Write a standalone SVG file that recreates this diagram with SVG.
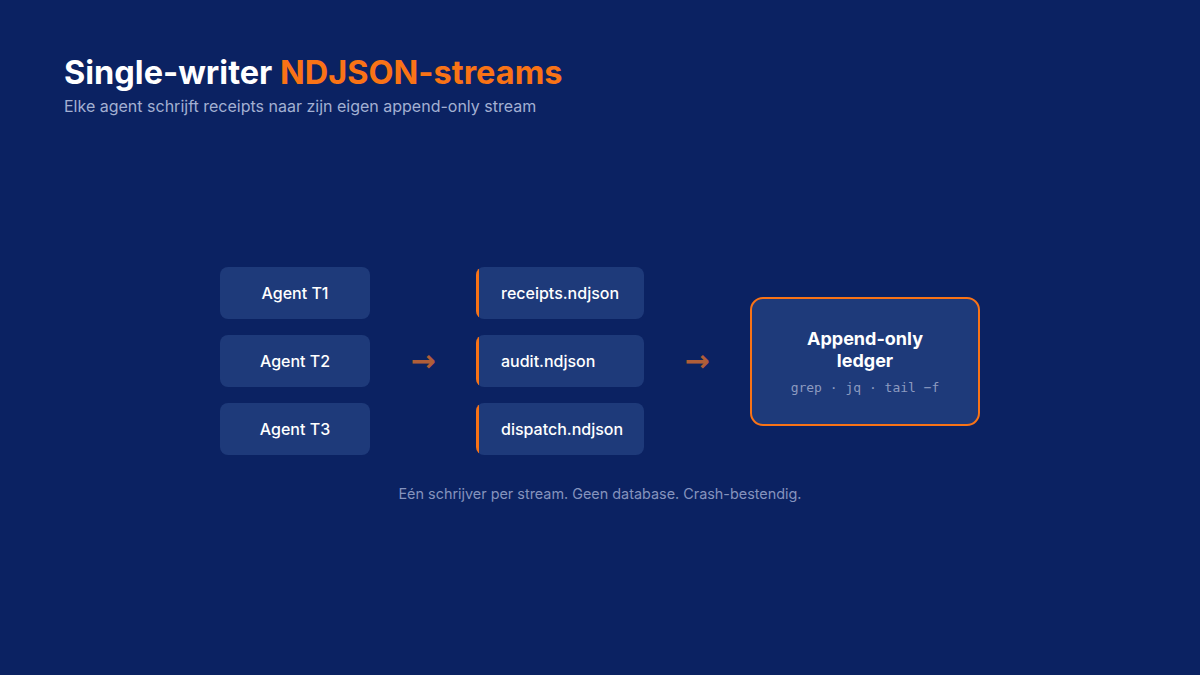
<svg xmlns="http://www.w3.org/2000/svg" width="1200" height="675" viewBox="0 0 1200 675">
<defs>
<style>
.bg{fill:#0b2262}
.box{fill:#1e3a7a}
.lbl{font-family:Inter,"Liberation Sans",sans-serif;font-size:16px;font-weight:500;fill:#ffffff}
.arrow{font-family:"DejaVu Sans",sans-serif;font-size:30px;font-weight:700;fill:#e8722a;opacity:0.75}
.bar{fill:#f97316}
</style>
<clipPath id="c1"><rect x="476" y="267" width="168" height="52" rx="8"/></clipPath>
<clipPath id="c2"><rect x="476" y="335" width="168" height="52" rx="8"/></clipPath>
<clipPath id="c3"><rect x="476" y="403" width="168" height="52" rx="8"/></clipPath>
</defs>
<rect class="bg" x="0" y="0" width="1200" height="675"/>
<g id="title">
<text x="64" y="84" font-family="Inter,'Liberation Sans',sans-serif" font-size="32.5" font-weight="700" fill="#ffffff">Single-writer <tspan fill="#f97316">NDJSON-streams</tspan></text>
<text x="64" y="112" font-family="Inter,'Liberation Sans',sans-serif" font-size="16" fill="#a3b0d2">Elke agent schrijft receipts naar zijn eigen append-only stream</text>
</g>
<g id="agent-t1"><rect class="box" x="220" y="267" width="150" height="52" rx="8"/><text class="lbl" x="295" y="299" text-anchor="middle">Agent T1</text></g>
<g id="agent-t2"><rect class="box" x="220" y="335" width="150" height="52" rx="8"/><text class="lbl" x="295" y="367" text-anchor="middle">Agent T2</text></g>
<g id="agent-t3"><rect class="box" x="220" y="403" width="150" height="52" rx="8"/><text class="lbl" x="295" y="435" text-anchor="middle">Agent T3</text></g>
<g id="stream-receipts"><g clip-path="url(#c1)"><rect class="box" x="476" y="267" width="168" height="52"/><rect class="bar" x="476" y="267" width="3" height="52"/></g><text class="lbl" x="501" y="299">receipts.ndjson</text></g>
<g id="stream-audit"><g clip-path="url(#c2)"><rect class="box" x="476" y="335" width="168" height="52"/><rect class="bar" x="476" y="335" width="3" height="52"/></g><text class="lbl" x="501" y="367">audit.ndjson</text></g>
<g id="stream-dispatch"><g clip-path="url(#c3)"><rect class="box" x="476" y="403" width="168" height="52"/><rect class="bar" x="476" y="403" width="3" height="52"/></g><text class="lbl" x="501" y="435">dispatch.ndjson</text></g>
<g id="ledger">
<rect x="751" y="298" width="228" height="127" rx="12" fill="#1e3a7a" stroke="#f97316" stroke-width="2"/>
<text x="865" y="345" text-anchor="middle" font-family="Inter,'Liberation Sans',sans-serif" font-size="18" font-weight="700" fill="#ffffff">Append-only</text>
<text x="865" y="367" text-anchor="middle" font-family="Inter,'Liberation Sans',sans-serif" font-size="18" font-weight="700" fill="#ffffff">ledger</text>
<text x="865" y="392" text-anchor="middle" font-family="'DejaVu Sans Mono',monospace" font-size="13" fill="#8d9bc0">grep · jq · tail −f</text>
</g>
<g id="connectors">
<text class="arrow" x="423" y="371" text-anchor="middle">→</text>
<text class="arrow" x="697" y="371" text-anchor="middle">→</text>
</g>
<text x="600" y="499" text-anchor="middle" font-family="Inter,'Liberation Sans',sans-serif" font-size="14.4" fill="#8593bd">Eén schrijver per stream. Geen database. Crash-bestendig.</text>
</svg>
